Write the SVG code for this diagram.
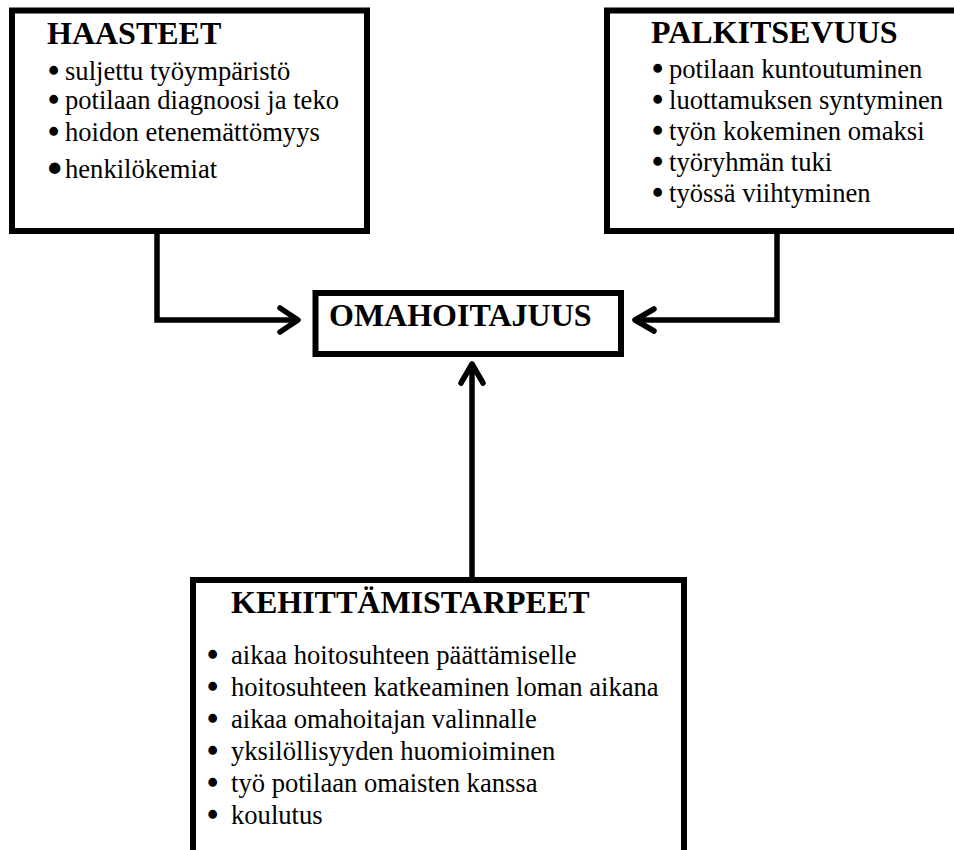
<svg xmlns="http://www.w3.org/2000/svg" width="954" height="850" viewBox="0 0 954 850">
<style>
.box{fill:#fff;stroke:#000;stroke-width:6}
.conn{fill:none;stroke:#000;stroke-width:5.5}
.head{fill:none;stroke:#000;stroke-width:5.5;stroke-linecap:round;stroke-linejoin:round}
.h{font-family:"Liberation Serif","Times New Roman",serif;font-weight:bold;font-size:32px;fill:#000}
.t{font-family:"Liberation Serif","Times New Roman",serif;font-size:26.6px;fill:#000}
.b{stroke:#000;stroke-width:2.4;stroke-linejoin:round}
.bb{stroke:#000;stroke-width:5;stroke-linejoin:round}
</style>
<rect width="954" height="850" fill="#fff"/>
<g id="haasteet">
<rect class="box" x="12" y="10.5" width="355" height="220.5"/>
<text class="h" x="47" y="44">HAASTEET</text>
<text class="t" x="49" y="80"><tspan class="b">•</tspan><tspan x="65">suljettu työympäristö</tspan></text>
<text class="t" x="49" y="109"><tspan class="b">•</tspan><tspan x="65">potilaan diagnoosi ja teko</tspan></text>
<text class="t" x="49" y="141"><tspan class="b">•</tspan><tspan x="65">hoidon etenemättömyys</tspan></text>
<text class="t" x="50" y="178"><tspan class="bb">•</tspan><tspan x="65">henkilökemiat</tspan></text>
</g>
<g id="palkitsevuus">
<rect class="box" x="607" y="10.5" width="355" height="220.5"/>
<text class="h" x="651" y="43">PALKITSEVUUS</text>
<text class="t" x="653" y="78"><tspan class="b">•</tspan><tspan x="669">potilaan kuntoutuminen</tspan></text>
<text class="t" x="653" y="108.5"><tspan class="b">•</tspan><tspan x="669">luottamuksen syntyminen</tspan></text>
<text class="t" x="653" y="139.5"><tspan class="b">•</tspan><tspan x="669">työn kokeminen omaksi</tspan></text>
<text class="t" x="653" y="170.5"><tspan class="b">•</tspan><tspan x="669">työryhmän tuki</tspan></text>
<text class="t" x="653" y="202"><tspan class="b">•</tspan><tspan x="669">työssä viihtyminen</tspan></text>
</g>
<g id="omahoitajuus">
<rect class="box" x="315.5" y="293" width="305.5" height="61"/>
<text class="h" x="329" y="326">OMAHOITAJUUS</text>
</g>
<g id="kehittamistarpeet">
<rect class="box" x="193" y="580" width="491" height="290"/>
<text class="h" x="231" y="613">KEHITTÄMISTARPEET</text>
<text class="t" x="208" y="664"><tspan class="b">•</tspan><tspan x="231">aikaa hoitosuhteen päättämiselle</tspan></text>
<text class="t" x="208" y="696"><tspan class="b">•</tspan><tspan x="231">hoitosuhteen katkeaminen loman aikana</tspan></text>
<text class="t" x="208" y="728"><tspan class="b">•</tspan><tspan x="231">aikaa omahoitajan valinnalle</tspan></text>
<text class="t" x="208" y="760"><tspan class="b">•</tspan><tspan x="231">yksilöllisyyden huomioiminen</tspan></text>
<text class="t" x="208" y="792"><tspan class="b">•</tspan><tspan x="231">työ potilaan omaisten kanssa</tspan></text>
<text class="t" x="208" y="824"><tspan class="b">•</tspan><tspan x="231">koulutus</tspan></text>
</g>
<g id="connectors">
<path class="conn" d="M157,231 V320 H296"/>
<path class="head" d="M280,308 L298,320 L280,332"/>
<path class="conn" d="M777,231 V320 H636"/>
<path class="head" d="M654,309 L635,320 L654,331"/>
<path class="conn" d="M472,580 V365"/>
<path class="head" d="M461,383 L472,364 L483,383"/>
</g>
</svg>
